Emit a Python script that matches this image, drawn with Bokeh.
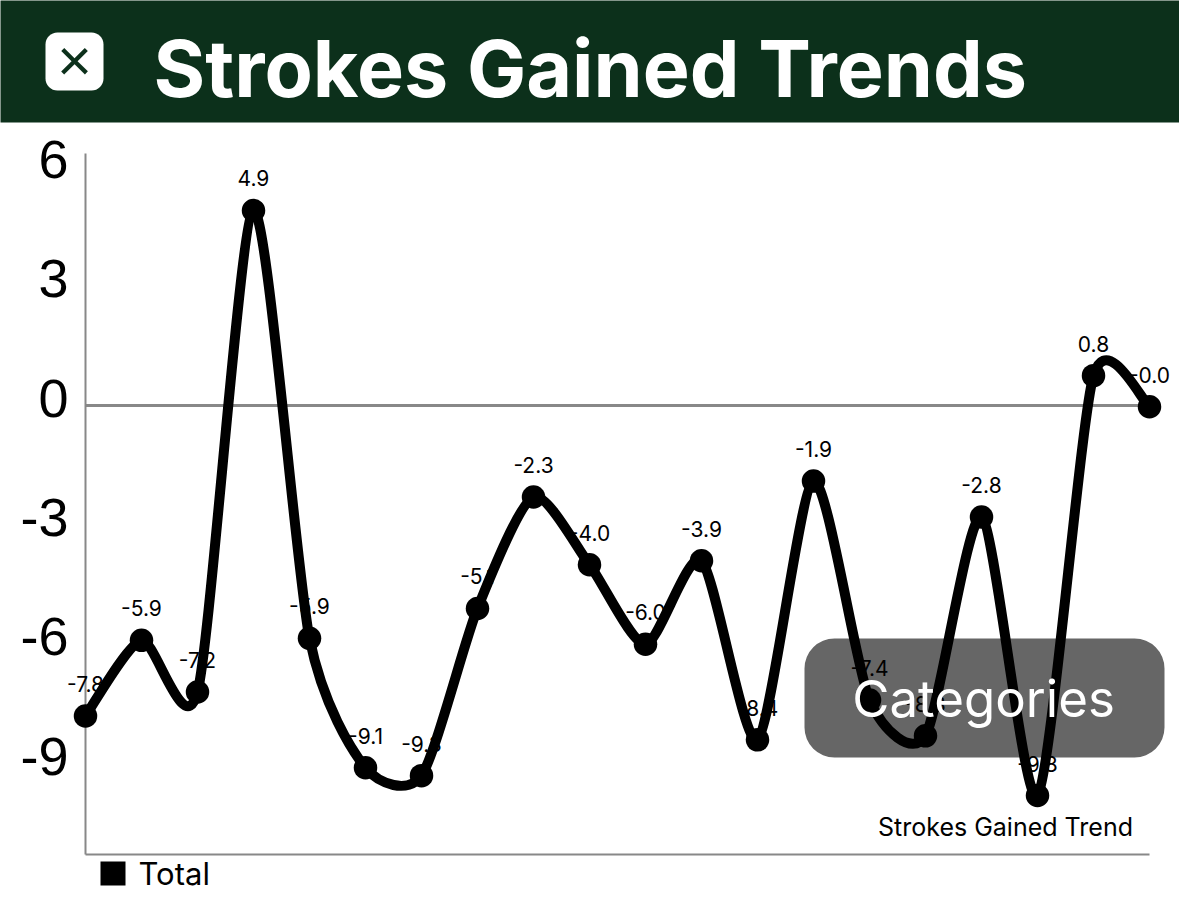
from bokeh.plotting import figure
from bokeh.models import Range1d, ColumnDataSource, BoxAnnotation, Label, LinearAxis, FixedTicker
from bokeh.core.properties import value
from bokeh.embed import file_html
from bokeh.resources import INLINE

values = [-7.8, -5.9, -7.2, 4.9, -5.85, -9.1, -9.3, -5.1, -2.3, -4.0, -6.0, -3.9, -8.4, -1.9, -7.4, -8.3, -2.8, -9.8, 0.75, -0.03]
labels = ["-7.8", "-5.9", "-7.2", "4.9", "-5.9", "-9.1", "-9.3", "-5.1", "-2.3", "-4.0", "-6.0", "-3.9", "-8.4", "-1.9", "-7.4", "-8.3", "-2.8", "-9.8", "0.8", "-0.0"]
y_ticks = [6, 3, 0, -3, -6, -9]
y_tick_labels = ["6", "3", "0", "-3", "-6", "-9"]
title = "Strokes Gained Trends"
button = "Categories"
axis_title = "Strokes Gained Trend"
legend_name = "Total"
close_icon = "\u00d7"

W, H = 1179, 906
X0, STEP, Y0, UNIT = 85.0, 56.0, 405.0, 39.8
BOTTOM, TOP = -11.28, 6.33
CUBIC = 0.12
HEADER = "#0c301b"
TICK_SHIFT = -7.5 / UNIT


def dx(px):
    return (px - X0) / STEP


def dy(py):
    return (Y0 - py) / UNIT


p = figure(width=W, height=H, output_backend="svg", toolbar_location=None,
           x_range=Range1d(dx(0), dx(W)), y_range=Range1d(dy(H), dy(0)),
           min_border=0, outline_line_color=None, background_fill_color="white",
           x_axis_location=None, y_axis_location=None)
p.grid.visible = False
p.styles = {"position": "absolute", "left": "0", "top": "0"}

p.add_layout(BoxAnnotation(left=dx(804), right=dx(1164), top=dy(638), bottom=dy(757),
                           fill_color="#666666", fill_alpha=1, line_color=None,
                           border_radius=30, level="underlay"))

n = len(values)
# The tick labels sit a little above their true positions in the reference.
p.extra_y_ranges = {"ticks": Range1d(dy(H) + TICK_SHIFT, dy(0) + TICK_SHIFT)}
ya = LinearAxis(y_range_name="ticks", fixed_location=0, ticker=FixedTicker(ticks=y_ticks),
                major_label_overrides=dict(zip(y_ticks, y_tick_labels)),
                bounds=(BOTTOM + TICK_SHIFT, TOP + TICK_SHIFT),
                major_tick_line_color=None, minor_tick_line_color=None,
                axis_line_color="#888888", axis_line_width=2,
                major_label_text_font="Liberation Sans", major_label_text_font_size="54px",
                major_label_text_color="black", major_label_standoff=11, level="underlay")
p.add_layout(ya, "left")
for loc, width in ((BOTTOM, 2), (0, 3)):
    p.add_layout(LinearAxis(fixed_location=loc, ticker=FixedTicker(ticks=[]), bounds=(0, n - 1),
                            major_tick_line_color=None, minor_tick_line_color=None,
                            axis_line_color="#888888", axis_line_width=width, level="underlay"), "below")

xs = list(range(n))
src = ColumnDataSource(dict(x=xs, y=values, t=labels))
p.text("x", "y", text="t", source=src, y_offset=-32, text_align="center", text_baseline="middle",
       text_font=value("Inter"), text_font_size="21px", text_color="black")

x0, y0, x1, y1, cx0, cy0, cx1, cy1 = [], [], [], [], [], [], [], []
for i in range(1, n):
    a, b, c, d = max(i - 2, 0), i - 1, i, min(i + 1, n - 1)
    x0.append(xs[b]); y0.append(values[b])
    x1.append(xs[c]); y1.append(values[c])
    cx0.append(xs[b] + CUBIC * (xs[c] - xs[a])); cy0.append(values[b] + CUBIC * (values[c] - values[a]))
    cx1.append(xs[c] - CUBIC * (xs[d] - xs[b])); cy1.append(values[c] - CUBIC * (values[d] - values[b]))
p.bezier(x0=x0, y0=y0, x1=x1, y1=y1, cx0=cx0, cy0=cy0, cx1=cx1, cy1=cy1,
         line_color="black", line_width=10, line_cap="round")
p.scatter("x", "y", source=src, size=23.5, marker="circle", fill_color="black", line_color=None)

p.add_layout(Label(x=dx(983), y=dy(698), text=button, text_align="center", text_baseline="middle",
                   text_font="Inter", text_font_size="51px", text_color="white", level="overlay"))
p.add_layout(Label(x=dx(1005), y=dy(826), text=axis_title, text_align="center", text_baseline="middle",
                   text_font="Inter", text_font_size="25px", text_color="black", level="overlay"))

p.add_layout(BoxAnnotation(left=dx(100), right=dx(125), top=dy(861), bottom=dy(885),
                           fill_color="black", fill_alpha=1, line_color=None, level="overlay"))
p.add_layout(Label(x=dx(138), y=dy(873), text=legend_name, text_align="left", text_baseline="middle",
                   text_font="Inter", text_font_size="31px", text_color="black", level="overlay"))

p.add_layout(BoxAnnotation(left=dx(-5), right=dx(W + 5), top=dy(-5), bottom=dy(122),
                           fill_color=HEADER, fill_alpha=1, line_color=None, level="overlay"))
p.add_layout(BoxAnnotation(left=dx(45), right=dx(103), top=dy(32), bottom=dy(90),
                           fill_color="white", fill_alpha=1, line_color=None,
                           border_radius=12, level="overlay"))
p.add_layout(Label(x=dx(74), y=dy(60), text=close_icon, text_align="center", text_baseline="middle",
                   text_font="Liberation Sans", text_font_size="60px", text_color=HEADER, level="overlay"))
p.add_layout(Label(x=dx(153), y=dy(67), text=title, text_align="left", text_baseline="middle",
                   text_font="Inter", text_font_style="bold", text_font_size="79px",
                   text_color="white", level="overlay"))

open("out.html", "w").write(file_html(p, INLINE))
